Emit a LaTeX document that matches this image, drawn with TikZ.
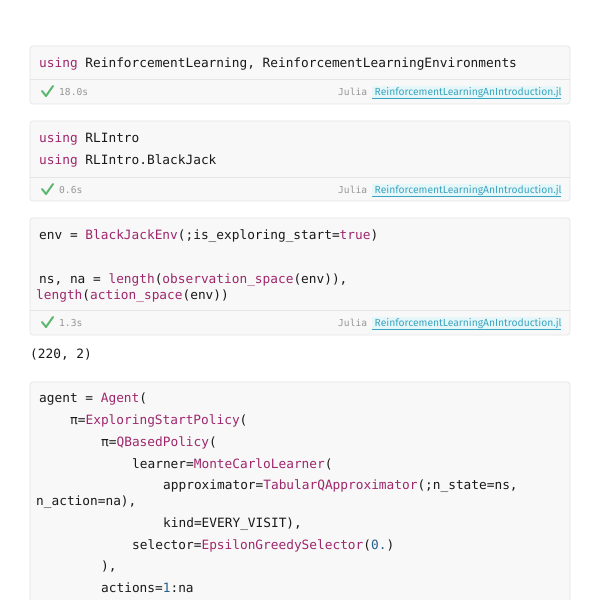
\documentclass[tikz,border=0pt]{standalone}
\usepackage{fontspec}
\setmonofont{DejaVu Sans Mono}
\setsansfont{Fira Sans}
\usepackage{tikz}

\definecolor{cellfill}{RGB}{248,248,248}
\definecolor{cellline}{RGB}{229,229,229}
\definecolor{codetext}{RGB}{25,25,25}
\definecolor{jlpurple}{RGB}{158,39,108}
\definecolor{jlblue}{RGB}{37,96,135}
\definecolor{footgray}{RGB}{150,150,150}
\definecolor{linkcyan}{RGB}{58,164,192}
\definecolor{linkfill}{RGB}{230,247,250}
\definecolor{okgreen}{RGB}{92,184,110}

\newcommand{\jkw}[1]{\textcolor{jlpurple}{#1}}
\newcommand{\jfn}[1]{\textcolor{jlpurple}{#1}}
\newcommand{\jnum}[1]{\textcolor{jlblue}{#1}}

\begin{document}
\begin{tikzpicture}[x=1pt,y=-1pt,
  cellbox/.style={draw=cellline,fill=cellfill,line width=0.8pt,rounded corners=3pt},
  sepline/.style={draw=cellline,line width=0.8pt},
  code/.style={anchor=base west,inner sep=0pt,text=codetext,font=\ttfamily\fontsize{12.8}{15}\selectfont},
  foot/.style={anchor=base west,inner sep=0pt,text=footgray,font=\ttfamily\fontsize{9.6}{11}\selectfont},
  linkbox/.style={anchor=base west,inner sep=0pt,text=linkcyan,font=\sffamily\fontsize{10.3}{12}\selectfont}]
\useasboundingbox (0,0) rectangle (600,600);
\clip (0,0) rectangle (600,600);
\fill[white] (0,0) rectangle (600,600);

\foreach \ct/\cs/\cb in {46/79/104, 121/177/201, 218/310/335, 382/700/720}{
  \draw[cellbox] (30,\ct) rectangle (570,\cb);
  \draw[sepline] (30,\cs) -- (570,\cs);
}

\foreach \cs/\tm [count=\n] in {79/18.0s, 177/0.6s, 310/1.3s}{
  \draw[okgreen,line width=2pt,line cap=round,line join=round] (42,\cs+12) -- (46,\cs+17) -- (53,\cs+7);
  \node[foot] (time\n) at (59,\cs+16) {\tm};
  \node[foot] (lang\n) at (338,\cs+16) {Julia};
  \fill[linkfill] (372,\cs+7) rectangle (561,\cs+19);
  \draw[linkcyan,line width=0.8pt] (372,\cs+19) -- (561,\cs+19);
  \node[linkbox] (link\n) at (374.5,\cs+16) {ReinforcementLearningAnIntroduction.jl};
}

\node[code] (use1) at (39,67) {\jkw{using} ReinforcementLearning, ReinforcementLearningEnvironments};

\node[code] (use2) at (39,142) {\jkw{using} RLIntro};
\node[code] (use3) at (39,164) {\jkw{using} RLIntro.BlackJack};

\node[code] (env) at (39,239) {env = \jfn{BlackJackEnv}(;is\_exploring\_start=\jfn{true})};
\node[code] (nsna) at (39,283) {ns, na = \jfn{length}(\jfn{observation\_space}(env)),};
\node[code] (nsnb) at (36,299) {\jfn{length}(\jfn{action\_space}(env))};

\node[code] (out) at (30,358) {(220, 2)};

\node[code] (agent) at (39,402) {agent = \jfn{Agent}(};
\node[code] (explore) at (70,424) {π=\jfn{ExploringStartPolicy}(};
\node[code] (qpolicy) at (101,446) {π=\jfn{QBasedPolicy}(};
\node[code] (learner) at (132,468) {learner=\jfn{MonteCarloLearner}(};
\node[code] (approx) at (163,489.5) {approximator=\jfn{TabularQApproximator}(;n\_state=ns,};
\node[code] (approxb) at (36,505.5) {n\_action=na),};
\node[code] (kind) at (163,527) {kind=EVERY\_VISIT),};
\node[code] (selector) at (132,549) {selector=\jfn{EpsilonGreedySelector}(\jnum{0.})};
\node[code] (close) at (101,570.5) {),};
\node[code] (actions) at (101,592) {actions=\jnum{1}:na};
\end{tikzpicture}
\end{document}
